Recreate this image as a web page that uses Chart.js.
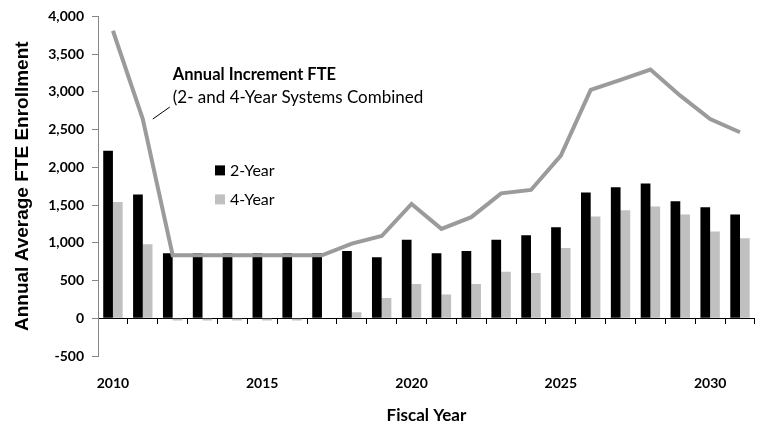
<!DOCTYPE html>
<html>
<head>
<meta charset="utf-8">
<script src="https://cdn.jsdelivr.net/npm/chart.js@4.4.0/dist/chart.umd.min.js"></script>
<style>
  html, body { margin: 0; padding: 0; background: #fff; }
  #wrap { width: 759px; height: 427px; }
</style>
</head>
<body>
<div id="wrap"><canvas id="fteChart" width="759" height="427"></canvas></div>
<script>
// fiscal years on the category axis
const years = ['2010', '2011', '2012', '2013', '2014', '2015', '2016', '2017', '2018', '2019', '2020',
  '2021', '2022', '2023', '2024', '2025', '2026', '2027', '2028', '2029', '2030', '2031'];
// only these years get a label
const labeledYears = ['2010', '2015', '2020', '2025', '2030'];

// annual increment FTE
const twoYear = [2220, 1640, 860, 860, 860, 860, 860, 860, 890, 810, 1040,
  860, 890, 1040, 1100, 1205, 1665, 1735, 1785, 1550, 1470, 1375];
const fourYear = [1540, 980, -30, -30, -30, -30, -30, 0, 80, 270, 455,
  315, 455, 615, 600, 930, 1350, 1430, 1480, 1375, 1150, 1060];
const combined = [3810, 2640, 835, 835, 835, 835, 835, 835, 990, 1090, 1515,
  1185, 1340, 1655, 1700, 2155, 3025, 3160, 3295, 2950, 2640, 2465];

const yMin = -500;
const yMax = 4000;
const yStep = 500;

const noteTitle = 'Annual Increment FTE';
const noteSub = '(2- and 4-Year Systems Combined';

const FONT = 'Lato, "Open Sans", sans-serif';

// annotation + in-plot legend, drawn after the datasets
const overlayText = {
  id: 'overlayText',
  afterDatasetsDraw(chart) {
    const ctx = chart.ctx;
    const area = chart.chartArea;
    const pt = chart.getDatasetMeta(2).data[1];
    ctx.save();

    // leader line from the 2011 point to the note
    ctx.strokeStyle = '#000';
    ctx.lineWidth = 1;
    ctx.beginPath();
    ctx.moveTo(pt.x + 10, pt.y);
    ctx.lineTo(pt.x + 27, pt.y - 12);
    ctx.stroke();

    ctx.fillStyle = '#000';
    ctx.textAlign = 'left';
    ctx.textBaseline = 'alphabetic';
    ctx.font = 'bold 16.5px ' + FONT;
    ctx.fillText(noteTitle, pt.x + 30, pt.y - 39);
    ctx.font = '17px ' + FONT;
    ctx.fillText(noteSub, pt.x + 30, pt.y - 16.5);

    // legend for the two bar series
    const lx = area.left + 117;
    let ly = area.top + 149;
    ctx.font = '16px ' + FONT;
    ctx.textBaseline = 'middle';
    chart.data.datasets.slice(0, 2).forEach(ds => {
      ctx.fillStyle = ds.backgroundColor;
      ctx.fillRect(lx, ly, 10, 10);
      ctx.fillStyle = '#000';
      ctx.fillText(ds.label, lx + 15, ly + 5.5);
      ly += 29;
    });
    ctx.restore();
  }
};

const ctx = document.getElementById('fteChart').getContext('2d');
new Chart(ctx, {
  type: 'bar',
  data: {
    labels: years,
    datasets: [
      {
        label: '2-Year',
        data: twoYear,
        backgroundColor: '#000000',
        categoryPercentage: 0.65,
        barPercentage: 1.0,
        order: 1
      },
      {
        label: '4-Year',
        data: fourYear,
        backgroundColor: '#c0c0c0',
        categoryPercentage: 0.65,
        barPercentage: 1.0,
        order: 1
      },
      {
        type: 'line',
        label: 'Combined',
        data: combined,
        borderColor: '#9b9b9b',
        borderWidth: 4,
        pointRadius: 0,
        tension: 0,
        fill: false,
        order: 0
      }
    ]
  },
  options: {
    responsive: false,
    animation: false,
    layout: { padding: { top: 15, right: 0, bottom: 0, left: 0 } },
    plugins: {
      legend: { display: false },
      tooltip: { enabled: false }
    },
    scales: {
      // axis line sits on zero, tick marks only
      x: {
        type: 'category',
        position: { y: 0 },
        offset: true,
        grid: { display: true, offset: true, drawOnChartArea: false, drawTicks: true, tickLength: 5, color: '#000' },
        border: { display: true, color: '#000', width: 1 },
        ticks: { display: false },
        afterFit: s => { s.height = 0; }
      },
      // labels at the bottom of the plot
      xLabels: {
        type: 'category',
        position: 'bottom',
        offset: true,
        grid: { display: false, drawTicks: false },
        border: { display: false },
        ticks: {
          autoSkip: false,
          maxRotation: 0,
          padding: 19,
          color: '#000',
          font: { family: FONT, size: 14, weight: 'bold' },
          callback: function (v) {
            const l = this.getLabelForValue(v);
            return labeledYears.includes(l) ? l : '';
          }
        },
        title: {
          display: true,
          text: 'Fiscal Year',
          color: '#000',
          font: { family: FONT, size: 17, weight: 'bold' },
          padding: { top: 0, bottom: 1 }
        },
        afterFit: s => { s.height = 71; }
      },
      y: {
        min: yMin,
        max: yMax,
        ticks: {
          stepSize: yStep,
          padding: 8,
          color: '#000',
          font: { family: FONT, size: 14, weight: 'bold' },
          callback: v => v.toLocaleString('en-US')
        },
        grid: { drawOnChartArea: false, drawTicks: true, tickLength: 6, color: '#868686' },
        border: { display: true, color: '#868686' },
        title: {
          display: true,
          text: 'Annual Average FTE Enrollment',
          color: '#000',
          font: { family: '"Liberation Sans", Arial, sans-serif', size: 19, weight: 'bold' },
          padding: { top: 11, bottom: 0 }
        },
        afterFit: s => { s.width = 98; }
      }
    }
  },
  plugins: [overlayText]
});
</script>
</body>
</html>
